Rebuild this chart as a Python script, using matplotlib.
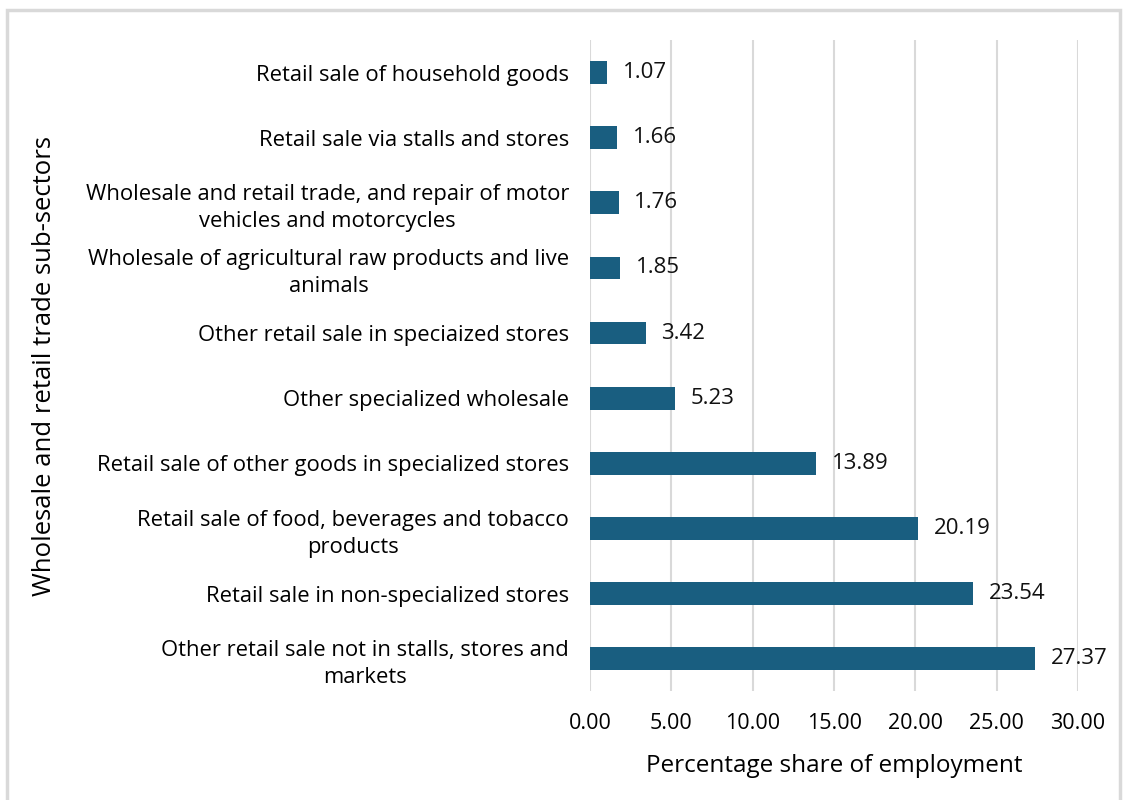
import matplotlib.pyplot as plt
from matplotlib.patches import Rectangle

# Employment share by sub-sector (%)
sectors = [
    'Other retail sale not in stalls, stores and\nmarkets',
    'Retail sale in non-specialized stores',
    'Retail sale of food, beverages and tobacco\nproducts',
    'Retail sale of other goods in specialized stores',
    'Other specialized wholesale',
    'Other retail sale in speciaized stores',
    'Wholesale of agricultural raw products and live\nanimals',
    'Wholesale and retail trade, and repair of motor\nvehicles and motorcycles',
    'Retail sale via stalls and stores',
    'Retail sale of household goods',
]
shares = [27.37, 23.54, 20.19, 13.89, 5.23, 3.42, 1.85, 1.76, 1.66, 1.07]
x_ticks = [0, 5, 10, 15, 20, 25, 30]

plt.rcParams['font.family'] = ['Open Sans', 'DejaVu Sans']

fig = plt.figure(figsize=(11.23, 8), dpi=100)
ax = fig.add_axes([0.5254, 0.136, 0.4346, 0.814])

# Thin grey frame around the chart
fig.patches.append(Rectangle((7 / 1123, -0.05), 1113 / 1123, 1.05 - 10 / 800,
                             transform=fig.transFigure, fill=False,
                             edgecolor='#d9d9d9', linewidth=2.5))

pos = range(len(sectors))
ax.barh(pos, shares, height=0.35, color='#195e80', zorder=3)
for p, v in zip(pos, shares):
    ax.text(v + 0.95, p, f'{v:.2f}', va='center', ha='left', fontsize=16, color='#111111')

ax.set_xlim(0, 30)
ax.set_ylim(-0.5, len(sectors) - 0.5)
ax.set_xticks(x_ticks)
ax.set_xticklabels([f'{t:.2f}' for t in x_ticks], fontsize=15.5)
ax.set_yticks(list(pos))
ax.set_yticklabels(sectors, fontsize=15.8, ha='right', multialignment='center',
                   linespacing=1.35)
ax.tick_params(axis='both', length=0)
ax.tick_params(axis='x', pad=16)
ax.tick_params(axis='y', pad=15)
ax.grid(axis='x', color='#d9d9d9', linewidth=1.5, zorder=0)
for s in ax.spines.values():
    s.set_visible(False)

ax.set_xlabel('Percentage share of employment', fontsize=17.5, labelpad=14)
fig.text(45 / 1123, 1 - 366 / 800, 'Wholesale and retail trade sub-sectors',
         rotation=90, ha='center', va='center', fontsize=18.5)

fig.savefig('out.png', dpi=100)
